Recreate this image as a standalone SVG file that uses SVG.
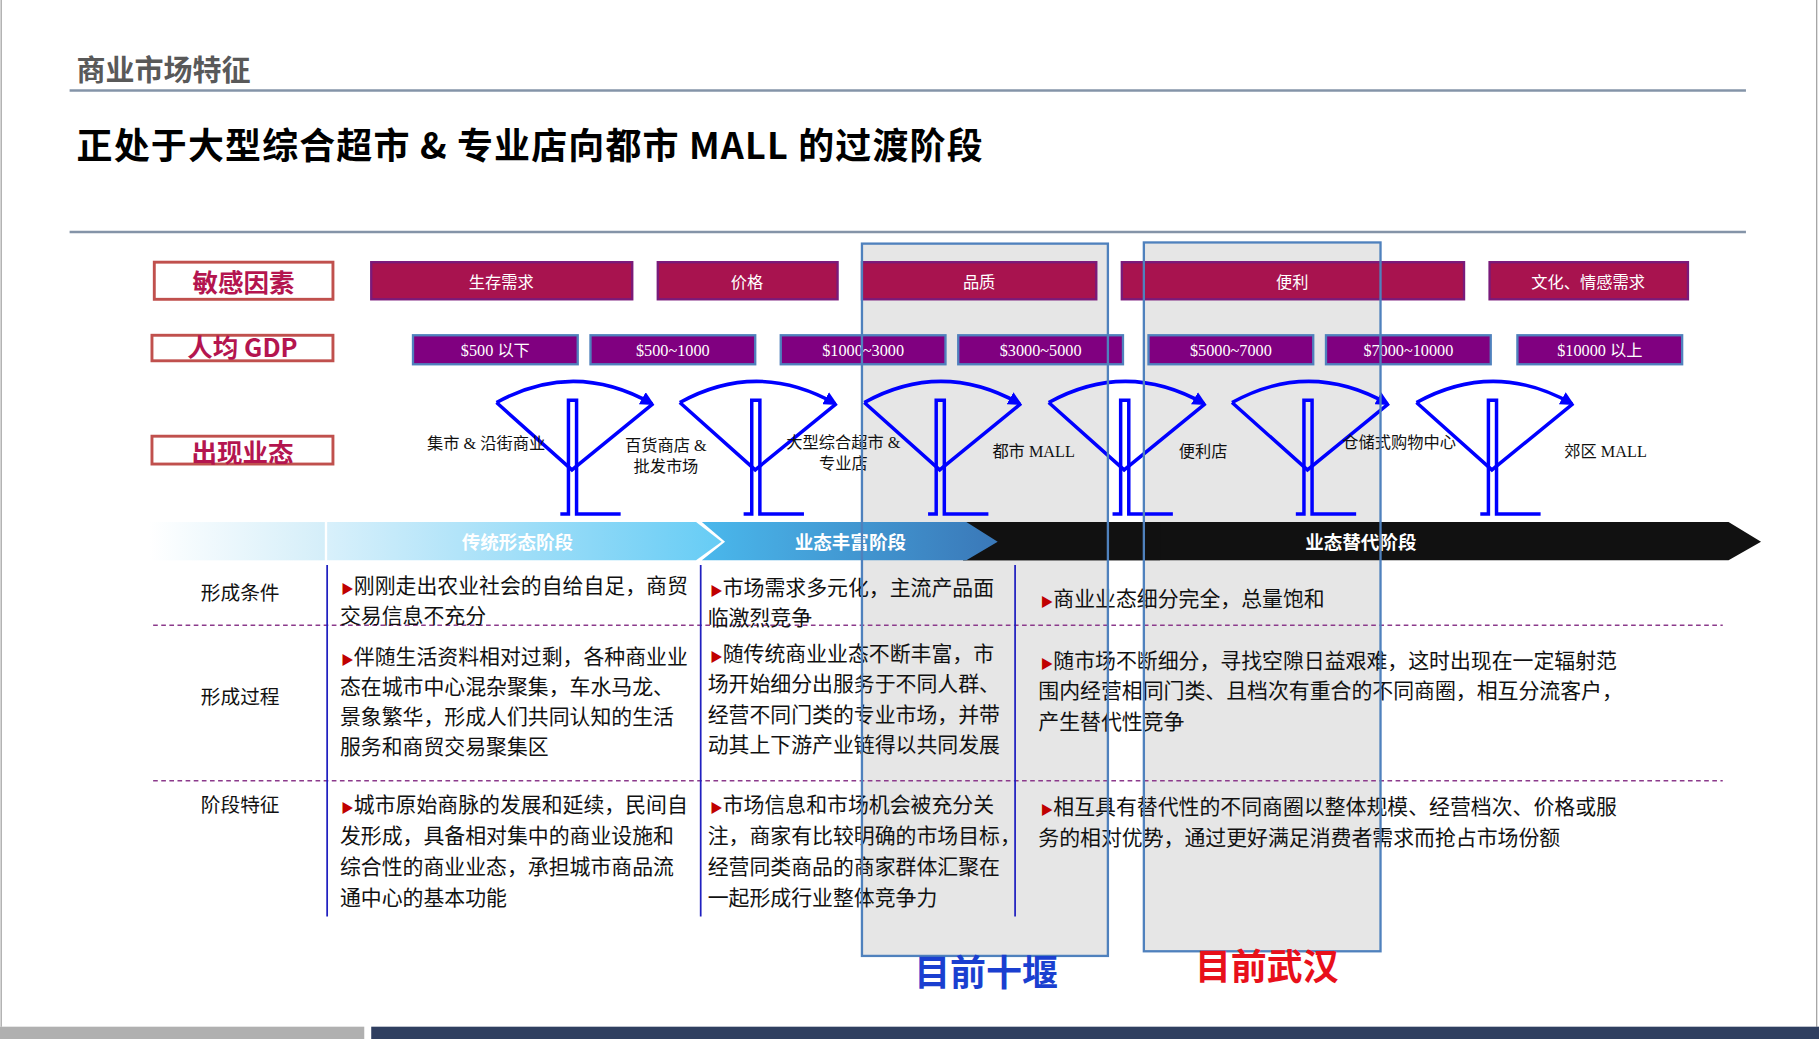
<svg xmlns="http://www.w3.org/2000/svg" width="1819" height="1039" viewBox="0 0 1819 1039">
<defs>
<style>
text{font-family:"Noto Sans CJK SC","Liberation Sans",sans-serif}
.ser{font-family:"Liberation Serif","Noto Sans CJK SC",serif;font-size:14px;fill:#111}
.lbl{fill:#b4154f;font-weight:bold;font-size:22px;text-anchor:middle}
.lb{fill:#fff;stroke:#c0504d;stroke-width:2.5}
.sf{fill:#a8134f;stroke:#7a1a7a;stroke-width:2}
.sft{fill:#fff;font-size:14px;text-anchor:middle}
.gd{fill:#800080;stroke:#4f81bd;stroke-width:2}
.gdt{fill:#fff;font-size:14px;text-anchor:middle;font-family:"Liberation Serif","Noto Sans CJK SC",serif}
.ic{fill:none;stroke:#0000ff;stroke-width:3}
.bt{font-size:18px;fill:#111}
.b{fill:#c00000;font-size:11px}
.rl{font-size:17px;fill:#111;text-anchor:middle}
.dash{stroke:#8b3a8b;stroke-width:1.2;stroke-dasharray:4 3}
.vl{stroke:#2020c0;stroke-width:1.5}
.ph{fill:#fff;font-weight:bold;font-size:16px;text-anchor:middle}
</style>
<marker id="ah" viewBox="0 0 10 10" refX="8" refY="5" markerWidth="4" markerHeight="4" orient="auto"><path d="M0,0L10,5L0,10z" fill="#0000ff"/></marker>
<linearGradient id="g1" x1="0" x2="1"><stop offset="0" stop-color="#d8f0fb"/><stop offset="1" stop-color="#66ccf5"/></linearGradient>
<linearGradient id="g0" x1="0" x2="1"><stop offset="0" stop-color="#ffffff"/><stop offset="1" stop-color="#d4eef9"/></linearGradient>
<linearGradient id="g2" x1="0" x2="1"><stop offset="0" stop-color="#4ab8ec"/><stop offset="1" stop-color="#3a78b8"/></linearGradient>
<g id="icon"><path class="ic" d="M428,347 L493,405 L563,348"/><path class="ic" d="M428,347 Q495,310 562,348" marker-end="url(#ah)"/><path class="ic" d="M483,443 H490 V345 H497 V443 H535"/></g>
</defs>
<g transform="scale(1.1601)">
<rect width="1568" height="896" fill="#fff"/>
<line x1="1" y1="0" x2="1" y2="885" stroke="#999"/>
<line x1="1566" y1="0" x2="1566" y2="885" stroke="#999"/>
<text x="66" y="70" font-size="25" font-weight="bold" fill="#595959">商业市场特征</text>
<line x1="60" y1="78" x2="1505" y2="78" stroke="#8494a8" stroke-width="2"/>
<text x="66" y="137" font-size="31" font-weight="bold" fill="#000" letter-spacing="1">正处于大型综合超市 &amp; 专业店向都市 MALL 的过渡阶段</text>
<line x1="60" y1="200" x2="1505" y2="200" stroke="#8494a8" stroke-width="2"/>
<rect x="743" y="210" width="212" height="614" fill="#e6e6e6"/>
<rect x="986" y="209" width="204" height="611" fill="#e6e6e6"/>
<g id="labels">
<rect class="lb" x="133" y="226" width="154" height="32"/><text class="lbl" x="210" y="252">敏感因素</text>
<rect class="lb" x="131" y="289" width="156" height="22"/><text class="lbl" x="209" y="308" font-family="'Liberation Serif','Noto Sans CJK SC',serif">人均 GDP</text>
<rect class="lb" x="131" y="376" width="156" height="24"/><text class="lbl" x="209" y="398">出现业态</text>
</g>
<g id="factors">
<rect class="sf" x="320" y="226" width="225" height="32"/><text class="sft" x="432" y="248">生存需求</text>
<rect class="sf" x="567" y="226" width="155" height="32"/><text class="sft" x="644" y="248">价格</text>
<rect class="sf" x="743" y="226" width="202" height="32" fill="#9a1248"/><text class="sft" x="844" y="248">品质</text>
<rect class="sf" x="967" y="226" width="295" height="32"/><text class="sft" x="1114" y="248">便利</text>
<rect class="sf" x="1284" y="226" width="171" height="32"/><text class="sft" x="1369" y="248">文化、情感需求</text>
</g>
<g id="gdp">
<rect class="gd" x="356" y="289" width="142" height="25"/><text class="gdt" x="427" y="307">$500 以下</text>
<rect class="gd" x="509" y="289" width="142" height="25"/><text class="gdt" x="580" y="307">$500~1000</text>
<rect class="gd" x="673" y="289" width="142" height="25"/><text class="gdt" x="744" y="307">$1000~3000</text>
<rect class="gd" x="826" y="289" width="142" height="25"/><text class="gdt" x="897" y="307">$3000~5000</text>
<rect class="gd" x="990" y="289" width="142" height="25"/><text class="gdt" x="1061" y="307">$5000~7000</text>
<rect class="gd" x="1143" y="289" width="142" height="25"/><text class="gdt" x="1214" y="307">$7000~10000</text>
<rect class="gd" x="1308" y="289" width="142" height="25"/><text class="gdt" x="1379" y="307">$10000 以上</text>
</g>
<g id="connectors">
<use href="#icon"/>
<use href="#icon" x="158"/>
<use href="#icon" x="317"/>
<use href="#icon" x="476"/>
<use href="#icon" x="634"/>
<use href="#icon" x="793"/>
</g>
<g id="formats" class="ser">
<text x="419" y="387" text-anchor="middle" class="ser">集市 &amp; 沿街商业</text>
<text x="574" y="389" text-anchor="middle" class="ser">百货商店 &amp;</text>
<text x="574" y="407" text-anchor="middle" class="ser">批发市场</text>
<text x="727" y="386" text-anchor="middle" class="ser">大型综合超市 &amp;</text>
<text x="727" y="404" text-anchor="middle" class="ser">专业店</text>
<text x="891" y="394" text-anchor="middle" class="ser">都市 MALL</text>
<text x="1037" y="394" text-anchor="middle" class="ser">便利店</text>
<text x="1206" y="386" text-anchor="middle" class="ser">仓储式购物中心</text>
<text x="1384" y="394" text-anchor="middle" class="ser">郊区 MALL</text>
</g>
<g id="phases">
<rect x="128" y="450" width="152" height="33" fill="url(#g0)"/>
<path d="M1000,450 H1490 L1518,467 L1490,483 H830 L858,467 L835,450 Z" fill="#111"/>
<path d="M830,450 H1000 V483 H830 Z" fill="#111"/>
<path d="M605,450 H833 L860,467 L833,483 H605 L625,467 Z" fill="url(#g2)"/>
<path d="M282,450 H600 L622,467 L600,483 H282 Z" fill="url(#g1)"/>
<text class="ph" x="446" y="473">传统形态阶段</text>
<text class="ph" x="733" y="473">业态丰富阶段</text>
<text class="ph" x="1173" y="473">业态替代阶段</text>
</g>
<g id="table">
<line class="dash" x1="132" y1="539" x2="1485" y2="539"/>
<line class="dash" x1="132" y1="673" x2="1485" y2="673"/>
<line class="vl" x1="282" y1="487" x2="282" y2="790"/>
<line class="vl" x1="604" y1="487" x2="604" y2="790"/>
<line class="vl" x1="875" y1="487" x2="875" y2="790"/>
<text class="rl" x="207" y="517">形成条件</text>
<text class="rl" x="207" y="607">形成过程</text>
<text class="rl" x="207" y="700">阶段特征</text>
<text class="bt" x="294" y="511"><tspan class="b">▶</tspan>刚刚走出农业社会的自给自足，商贸</text>
<text class="bt" x="293" y="537">交易信息不充分</text>
<text class="bt" x="294" y="572"><tspan class="b">▶</tspan>伴随生活资料相对过剩，各种商业业</text>
<text class="bt" x="293" y="598">态在城市中心混杂聚集，车水马龙、</text>
<text class="bt" x="293" y="624">景象繁华，形成人们共同认知的生活</text>
<text class="bt" x="293" y="650">服务和商贸交易聚集区</text>
<text class="bt" x="294" y="700"><tspan class="b">▶</tspan>城市原始商脉的发展和延续，民间自</text>
<text class="bt" x="293" y="727">发形成，具备相对集中的商业设施和</text>
<text class="bt" x="293" y="753">综合性的商业业态，承担城市商品流</text>
<text class="bt" x="293" y="780">通中心的基本功能</text>
<text class="bt" x="612" y="513"><tspan class="b">▶</tspan>市场需求多元化，主流产品面</text>
<text class="bt" x="610" y="539">临激烈竞争</text>
<text class="bt" x="612" y="570"><tspan class="b">▶</tspan>随传统商业业态不断丰富，市</text>
<text class="bt" x="610" y="596">场开始细分出服务于不同人群、</text>
<text class="bt" x="610" y="622">经营不同门类的专业市场，并带</text>
<text class="bt" x="610" y="648">动其上下游产业链得以共同发展</text>
<text class="bt" x="612" y="700"><tspan class="b">▶</tspan>市场信息和市场机会被充分关</text>
<text class="bt" x="610" y="727">注，商家有比较明确的市场目标，</text>
<text class="bt" x="610" y="753">经营同类商品的商家群体汇聚在</text>
<text class="bt" x="610" y="780">一起形成行业整体竞争力</text>
<text class="bt" x="897" y="522"><tspan class="b">▶</tspan>商业业态细分完全，总量饱和</text>
<text class="bt" x="897" y="576"><tspan class="b">▶</tspan>随市场不断细分，寻找空隙日益艰难，这时出现在一定辐射范</text>
<text class="bt" x="895" y="602">围内经营相同门类、且档次有重合的不同商圈，相互分流客户，</text>
<text class="bt" x="895" y="628">产生替代性竞争</text>
<text class="bt" x="897" y="702"><tspan class="b">▶</tspan>相互具有替代性的不同商圈以整体规模、经营档次、价格或服</text>
<text class="bt" x="895" y="728">务的相对优势，通过更好满足消费者需求而抢占市场份额</text>
</g>
<g id="highlights">
<rect x="743" y="210" width="212" height="614" fill="none" stroke="#4f81bd" stroke-width="2"/>
<rect x="986" y="209" width="204" height="611" fill="none" stroke="#4f81bd" stroke-width="2"/>
<text x="850" y="850" font-size="31" font-weight="bold" fill="#1a3fd0" text-anchor="middle">目前十堰</text>
<text x="1092" y="845" font-size="31" font-weight="bold" fill="#e8101a" text-anchor="middle">目前武汉</text>
</g>
<rect x="0" y="885" width="314" height="11" fill="#b0b0b0"/>
<rect x="320" y="885" width="1248" height="11" fill="#2f3f60"/>
</g>
</svg>
